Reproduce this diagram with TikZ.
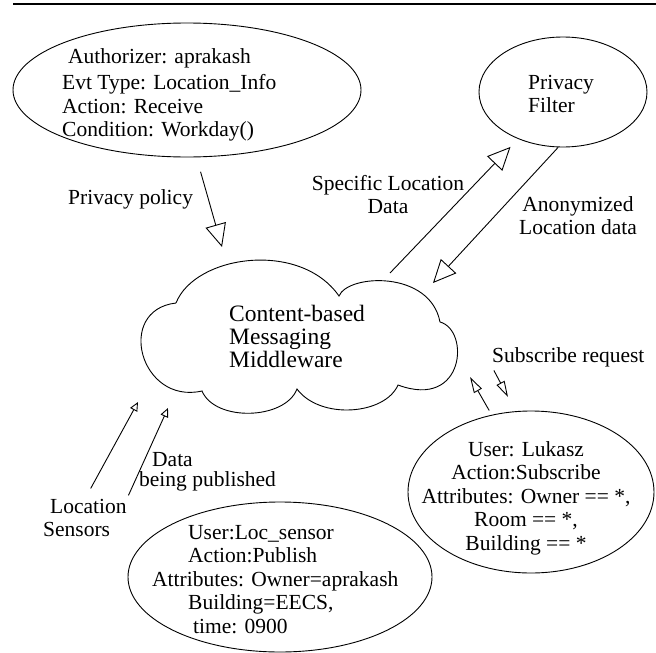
\documentclass[tikz,border=0pt]{standalone}
\usepackage{fontspec}
\setmainfont{Liberation Serif}
\usetikzlibrary{shapes.geometric, arrows.meta, calc}

\begin{document}
\begin{tikzpicture}[x=1pt, y=-1pt,
  txt/.style={inner sep=0pt, font=\fontsize{21.5}{23.5}\selectfont},
  oval/.style={draw, ellipse, line width=0.9pt, inner sep=0pt},
  bigarrow/.style={-{Triangle[open, length=23pt, width=21pt]}, line width=0.9pt},
  smallarrow/.style={-{Triangle[open, length=9pt, width=8pt]}, line width=0.9pt},
  midarrow/.style={-{Triangle[open, length=16pt, width=9pt]}, line width=0.9pt}]
\useasboundingbox (0,0) rectangle (656,653);

% Top rule
\draw[line width=2.5pt] (13,4) -- (656,4);

% Policy ellipse
\node[oval, minimum width=348pt, minimum height=134pt] (policy) at (187,90) {};
\node[txt, align=left, anchor=north west] (policytext) at (62,48)
  {\hspace*{6pt}Authorizer: aprakash\\[3pt] Evt Type: Location\_Info\\ Action: Receive\\ Condition: Workday()};
\node[txt, anchor=north west] (pplabel) at (68,189) {Privacy policy};

% Privacy filter
\node[oval, minimum width=168pt, minimum height=110pt] (filter) at (563,92) {};
\node[txt, align=left, anchor=north west] (filtertext) at (528,75) {Privacy\\ Filter};
\node[txt, align=center, anchor=north] (speclabel) at (388,175) {Specific Location\\ Data};
\node[txt, align=center, anchor=north] (anonlabel) at (578,196) {Anonymized\\ Location data};

% Cloud
\coordinate (ca) at (176,303);
\coordinate (cb) at (339,296);
\coordinate (cc) at (440,322);
\coordinate (cd) at (398,385);
\coordinate (ce) at (297,389);
\coordinate (cf) at (202,391);
\draw[line width=0.9pt] (ca) .. controls (195,255) and (300,240) .. (cb)
  .. controls (348,274) and (430,270) .. (cc)
  .. controls (470,330) and (465,410) .. (cd)
  .. controls (385,415) and (320,420) .. (ce)
  .. controls (285,420) and (215,422) .. (cf)
  .. controls (140,405) and (115,310) .. (ca);
\node[txt, font=\fontsize{23.5}{23}\selectfont, align=left, anchor=north west] (mw) at (229,305)
  {Content-based\\ Messaging\\ Middleware};

% Sensors
\node[txt, align=left, anchor=north west] (sensors) at (43,499) {\hspace*{7pt}Location\\ Sensors};
\node[txt, align=left, anchor=north west] (publabel) at (139,452) {\hspace*{13pt}Data\\[-3pt] being published};
\node[oval, minimum width=304pt, minimum height=150pt] (locsensor) at (280,577) {};
\node[txt, align=left, anchor=north west] (locsensortext) at (152,525)
  {\hspace*{36pt}User:Loc\_sensor\\ \hspace*{36pt}Action:Publish\\ Attributes: Owner=aprakash\\ \hspace*{36pt}Building=EECS,\\ \hspace*{41pt}time: 0900};

% Subscriber
\node[txt, anchor=north west] (subreq) at (492,347) {Subscribe request};
\node[oval, minimum width=246pt, minimum height=162pt] (lukasz) at (531,492) {};
\node[txt, align=center, anchor=north] (lukasztext) at (526,441)
  {User: Lukasz\\ Action:Subscribe\\ Attributes: Owner == *,\\ Room == *,\\ Building == *};

% Arrow ends at the cloud
\coordinate (pptip) at (222,247);
\coordinate (specstart) at (390,273);
\coordinate (anontip) at (433,283);
\coordinate (sensatip) at (138,402);
\coordinate (sensbtip) at (168,408);
\coordinate (subuptip) at (470,377);
\coordinate (subdowntip) at (508,397);

% Arrows
\draw[bigarrow, shorten <=15pt] (policy.-82) -- (pptip);
\draw[bigarrow, shorten >=11pt] (specstart) -- (filter);
\draw[bigarrow] (filter.-95) -- (anontip);
\draw[smallarrow, shorten <=12pt] (sensors.north) -- (sensatip);
\draw[smallarrow, shorten <=4pt] (sensors.north east) -- (sensbtip);
\draw[midarrow, shorten <=5pt] (lukasz.117) -- (subuptip);
\draw[midarrow, shorten <=4pt] (subreq.south west) -- (subdowntip);
\end{tikzpicture}
\end{document}
